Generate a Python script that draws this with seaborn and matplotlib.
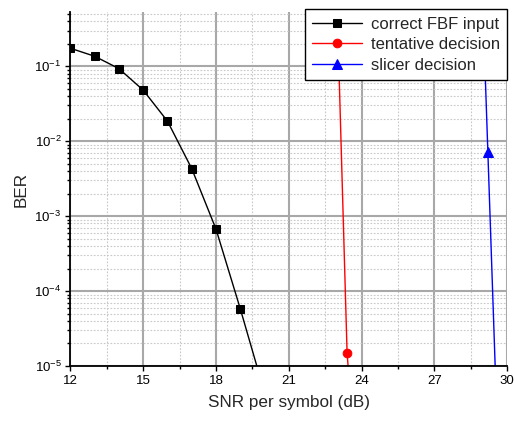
import matplotlib
matplotlib.use("Agg")
import matplotlib.pyplot as plt
import matplotlib.ticker as mticker
import seaborn as sns
import numpy as np

# Data
black_snr = [12, 13, 14, 15, 16, 17, 18, 19, 20]
black_ber = [0.174, 0.136, 0.093, 0.048, 0.0185, 0.0043, 6.7e-4, 5.8e-5, 4.4e-6]
red_snr = [23.0, 23.4, 23.8]
red_ber = [0.49, 1.5e-5, 3e-7]
blue_snr = [29.0, 29.2, 29.6]
blue_ber = [0.57, 7.2e-3, 1.15e-6]
labels = ["correct FBF input", "tentative decision", "slicer decision"]
x_ticks = [12, 15, 18, 21, 24, 27, 30]

sns.set_style("white")
plt.rcParams['font.family'] = ['Liberation Sans', 'DejaVu Sans']
plt.rcParams['mathtext.fontset'] = 'custom'
plt.rcParams['mathtext.rm'] = 'Liberation Sans'
plt.rcParams['mathtext.it'] = 'Liberation Sans'

fig = plt.figure(figsize=(5.15, 4.21), dpi=100)
ax = fig.add_axes([0.1367, 0.1306, 0.8483, 0.8409])

sns.lineplot(x=black_snr, y=black_ber, ax=ax, color='black', marker='s', markersize=5.5,
             markeredgecolor='black', linewidth=1, label=labels[0])
sns.lineplot(x=red_snr, y=red_ber, ax=ax, color='red', marker='o', markersize=6.2,
             markeredgecolor='red', linewidth=1, label=labels[1])
sns.lineplot(x=blue_snr, y=blue_ber, ax=ax, color='blue', marker='^', markersize=6.5,
             markeredgecolor='blue', linewidth=1, label=labels[2])

ax.set_yscale('log')
ax.set_xlim(12, 30)
ax.set_ylim(1e-5, 0.53)
ax.set_xticks(x_ticks)
ax.xaxis.set_minor_locator(mticker.MultipleLocator(1.5))
ax.yaxis.set_major_locator(mticker.LogLocator(base=10, numticks=10))
ax.yaxis.set_minor_locator(mticker.LogLocator(base=10, subs=np.arange(2, 10), numticks=20))
ax.yaxis.set_minor_formatter(mticker.NullFormatter())

ax.grid(True, which='major', color='#a8a8a8', linewidth=1.5, linestyle='-')
ax.grid(True, which='minor', color='#c8c8c8', linewidth=0.8, linestyle=(0, (1.5, 1.5)))
ax.set_axisbelow(True)

for s in ['top', 'right']:
    ax.spines[s].set_visible(False)
for s in ['left', 'bottom']:
    ax.spines[s].set_color('black')
    ax.spines[s].set_linewidth(1.3)

ax.tick_params(which='major', direction='out', length=3.4, width=1, color='black',
               labelsize=9.5, labelcolor='black', bottom=True, left=True, pad=3)
ax.tick_params(which='minor', direction='out', length=2.4, width=1, color='black',
               bottom=True, left=True)

ax.set_xlabel("SNR per symbol (dB)", fontsize=12.3, labelpad=6)
ax.set_ylabel("BER", fontsize=12.3, labelpad=4)

leg = ax.legend(loc='upper right', bbox_to_anchor=(1.0, 1.008), borderaxespad=0,
                fontsize=12, handlelength=3.0, labelspacing=0.33, handletextpad=0.5,
                borderpad=0.45, fancybox=False, framealpha=1, edgecolor='black')
leg.get_frame().set_linewidth(1)
leg.set_zorder(10)

fig.savefig("out.png", dpi=100)
